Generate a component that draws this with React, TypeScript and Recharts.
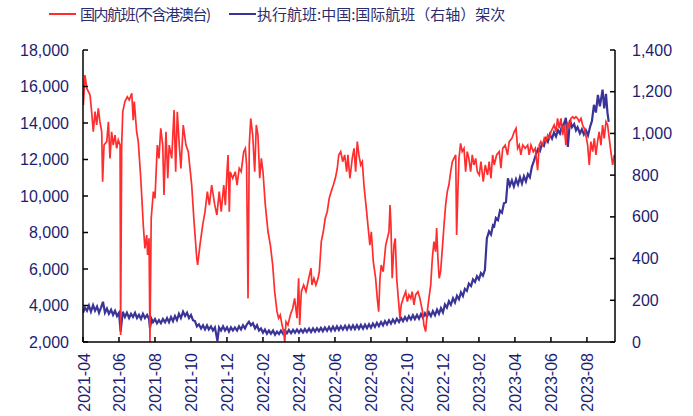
import React from 'react';
import { LineChart, Line, XAxis, YAxis } from 'recharts';

// x positions are in months since 2021-04-01
const tickLabels = ['2021-04','2021-06','2021-08','2021-10','2021-12','2022-02','2022-04','2022-06','2022-08','2022-10','2022-12','2023-02','2023-04','2023-06','2023-08'];
const tickMonths = [0,2,4,6,8,10,12,14,16,18,20,22,24,26,28];
const leftTicks = [2000,4000,6000,8000,10000,12000,14000,16000,18000];
const rightTicks = [0,200,400,600,800,1000,1200,1400];

const domesticMonths = [0.02,0.11,0.21,0.39,0.48,0.57,0.67,0.76,0.85,0.94,1.04,1.09,1.17,1.32,1.41,1.5,1.59,1.68,1.78,1.87,1.96,2.06,2.09,2.15,2.21,2.33,2.46,2.57,2.71,2.79,2.85,2.98,3.07,3.21,3.35,3.44,3.54,3.59,3.67,3.72,3.79,3.91,4.0,4.13,4.22,4.32,4.43,4.5,4.61,4.71,4.79,4.93,5.06,5.15,5.24,5.35,5.44,5.57,5.72,5.85,6.04,6.17,6.32,6.37,6.5,6.65,6.78,6.91,7.02,7.15,7.32,7.44,7.57,7.68,7.82,7.91,8.0,8.06,8.13,8.18,8.32,8.46,8.56,8.68,8.79,8.93,9.02,9.09,9.17,9.24,9.32,9.43,9.54,9.63,9.72,9.82,9.91,10.0,10.13,10.28,10.41,10.54,10.65,10.78,10.87,10.96,11.06,11.15,11.21,11.28,11.39,11.52,11.65,11.76,11.89,11.98,12.04,12.13,12.26,12.39,12.54,12.67,12.72,12.83,12.94,13.06,13.13,13.24,13.35,13.46,13.57,13.68,13.79,13.91,14.02,14.13,14.21,14.32,14.43,14.54,14.65,14.72,14.83,14.96,15.06,15.15,15.24,15.33,15.43,15.52,15.61,15.76,15.83,15.94,16.02,16.13,16.26,16.35,16.43,16.5,16.57,16.68,16.82,16.91,17.0,17.06,17.11,17.18,17.28,17.35,17.43,17.52,17.61,17.68,17.79,17.93,18.02,18.11,18.21,18.29,18.39,18.48,18.61,18.72,18.79,18.87,18.94,19.04,19.13,19.22,19.32,19.41,19.5,19.59,19.65,19.72,19.79,19.87,19.98,20.06,20.15,20.24,20.33,20.43,20.52,20.61,20.71,20.76,20.83,20.89,20.98,21.07,21.17,21.26,21.35,21.44,21.54,21.63,21.72,21.82,21.91,22.02,22.11,22.24,22.35,22.48,22.57,22.67,22.76,22.85,22.98,23.13,23.22,23.32,23.46,23.59,23.68,23.83,23.96,24.06,24.15,24.24,24.33,24.43,24.57,24.71,24.79,24.89,25.02,25.13,25.21,25.26,25.35,25.44,25.54,25.63,25.72,25.82,25.91,26.0,26.09,26.18,26.28,26.37,26.46,26.56,26.65,26.74,26.83,26.93,27.02,27.11,27.21,27.29,27.39,27.48,27.57,27.67,27.76,27.85,27.94,28.04,28.13,28.22,28.32,28.41,28.5,28.59,28.68,28.78,28.87,28.96,29.06,29.15,29.24,29.33,29.43,29.52];
const domesticFlights = [14990,16630,15900,15530,14620,13520,14620,13890,14800,14070,13520,10780,12790,12980,14070,12060,13520,12790,13340,12610,13070,12790,2380,12790,14620,15170,15440,15260,15630,14160,15170,13520,12980,10970,8410,7130,7860,6770,7680,2000,8780,10240,9870,12790,12060,13710,12790,10050,13520,10970,12790,12060,14710,11330,14620,12790,11510,13890,12790,12430,10600,8590,6590,6220,7320,8410,9140,10240,9500,10600,9510,8960,10240,9140,10600,9500,11330,12250,9140,11330,10970,11330,10600,11520,11330,12430,12610,11700,4390,12800,14250,13340,11330,13890,13340,10970,12060,11330,9510,8040,7310,6220,4760,3660,3300,3480,2930,2570,2000,3110,2930,3480,3840,4390,3300,5490,2930,4760,5120,4760,5490,6040,5120,5490,5120,5490,5850,7500,8040,8780,9140,9870,10240,10600,10970,11520,12250,12430,11880,12250,11330,12250,10970,12060,12610,11330,12980,12250,11700,11880,10600,9140,8410,7310,8040,6400,5490,4390,3660,5490,6220,5850,7310,7680,8040,9510,8410,5490,7310,7680,5490,4390,3300,4030,4390,4760,4210,4580,4390,4760,4030,4580,4760,4390,4030,3660,2930,2570,3660,4390,5120,6590,7500,6950,8240,6590,5490,5850,7310,8410,9510,10240,10600,11330,11880,12060,12250,7860,10240,12060,12880,12430,12610,11330,12430,12060,11330,12250,11700,12060,11330,11150,11880,10780,11700,11150,11880,10970,12250,11700,12250,12430,11520,12610,12790,12250,12980,13160,13520,13710,12610,12790,12250,12790,12610,12790,12250,12790,12430,12610,11880,11420,12790,12980,12790,13160,12980,13340,13160,13520,13710,13890,13520,14250,13710,14250,13340,13890,12790,14070,13710,14250,14340,14250,14340,14250,14070,14250,13890,13710,13340,12790,11700,12980,12430,13160,12250,12980,13520,12790,13890,13160,14070,13890,13160,12430,11700,12250];

const intlMonths = [0.0,0.11,0.22,0.33,0.44,0.56,0.67,0.78,0.89,1.0,1.11,1.22,1.33,1.44,1.56,1.67,1.78,1.89,2.0,2.09,2.21,2.33,2.44,2.56,2.67,2.78,2.89,3.0,3.11,3.22,3.33,3.44,3.56,3.67,3.72,3.81,3.89,4.0,4.11,4.22,4.33,4.44,4.56,4.67,4.78,4.89,5.0,5.11,5.22,5.33,5.44,5.56,5.67,5.78,5.89,6.0,6.11,6.22,6.33,6.44,6.56,6.67,6.78,6.89,6.99,7.11,7.22,7.33,7.47,7.56,7.67,7.78,7.89,8.0,8.11,8.22,8.33,8.44,8.56,8.67,8.78,8.89,9.0,9.11,9.22,9.33,9.44,9.56,9.67,9.78,9.89,10.0,10.11,10.22,10.33,10.44,10.56,10.67,10.78,10.89,11.0,11.11,11.22,11.33,11.44,11.56,11.67,11.78,11.89,12.0,12.11,12.22,12.33,12.44,12.56,12.67,12.78,12.89,13.0,13.11,13.22,13.33,13.44,13.56,13.67,13.78,13.89,14.0,14.11,14.22,14.33,14.44,14.56,14.67,14.78,14.89,15.0,15.11,15.22,15.33,15.44,15.56,15.67,15.78,15.89,16.0,16.11,16.22,16.33,16.44,16.56,16.67,16.78,16.89,17.0,17.11,17.22,17.33,17.44,17.56,17.67,17.78,17.89,18.0,18.11,18.22,18.33,18.44,18.56,18.67,18.78,18.89,19.0,19.11,19.22,19.33,19.44,19.56,19.67,19.78,19.89,20.0,20.11,20.22,20.33,20.44,20.56,20.67,20.78,20.89,21.0,21.11,21.22,21.33,21.44,21.56,21.67,21.78,21.89,22.0,22.11,22.22,22.33,22.44,22.56,22.67,22.78,22.85,22.94,23.06,23.17,23.28,23.39,23.5,23.61,23.72,23.83,23.94,24.06,24.17,24.28,24.39,24.5,24.61,24.72,24.83,24.94,25.06,25.17,25.28,25.39,25.5,25.61,25.72,25.83,25.94,26.06,26.17,26.28,26.39,26.5,26.61,26.72,26.83,26.94,27.06,27.17,27.29,27.39,27.48,27.61,27.72,27.83,27.94,28.06,28.17,28.28,28.39,28.5,28.61,28.72,28.87,28.96,29.06,29.14,29.21,29.28,29.37,29.44,29.53];
const intlFlights = [140,165,150,175,145,177,150,170,140,165,193,140,160,135,155,130,150,125,140,49,145,120,140,115,135,120,140,115,130,110,135,115,130,110,67,110,95,110,90,105,90,110,95,115,95,120,100,125,105,135,115,145,125,140,115,130,105,100,75,85,65,80,60,80,60,75,55,70,5,70,55,75,55,70,50,70,55,70,55,75,60,80,65,85,97,80,90,65,80,55,65,45,60,40,55,40,55,35,50,38,55,40,55,42,58,42,58,44,60,45,60,46,62,48,64,48,65,50,66,52,68,52,70,54,72,55,74,56,75,58,76,60,78,60,79,62,80,62,81,63,82,64,83,66,85,68,88,72,92,76,96,80,100,84,104,88,108,92,112,96,116,100,120,104,124,108,128,110,130,112,134,116,138,120,142,124,148,128,155,135,162,142,180,165,195,178,210,190,222,205,238,220,255,245,280,268,300,288,315,300,330,318,345,497,530,515,560,555,595,585,630,620,665,670,785,750,775,745,780,755,790,760,795,770,805,790,840,870,900,925,915,950,940,975,960,995,975,1005,985,1015,1000,1035,1045,1075,935,1065,1030,1045,1015,1030,1000,1020,995,1015,990,1030,1060,1137,1100,1185,1130,1210,1120,1190,1100,1055];

const RED = '#ff2d2d';
const BLUE = '#3a3497';
const TEXT = '#1d1d72';
const FONT = '"Liberation Sans", Arial, sans-serif';

type Row = { m: number; dom?: number; intl?: number };
const rows: Row[] = [
  ...domesticMonths.map((m, i) => ({ m, dom: domesticFlights[i] })),
  ...intlMonths.map((m, i) => ({ m, intl: intlFlights[i] })),
].sort((a, b) => a.m - b.m);

const fmt = (v: number) => v.toLocaleString('en-US');

const LeftTick = (props: any) => {
  const { x, y, payload } = props;
  return (
    <g>
      <line x1={x} x2={x + 5} y1={y} y2={y} stroke="#000" strokeWidth={1.5} />
      <text x={x - 14} y={y} textAnchor="end" dominantBaseline="central" fill={TEXT} fontSize={16} fontFamily={FONT}>
        {fmt(payload.value)}
      </text>
    </g>
  );
};

const RightTick = (props: any) => {
  const { x, y, payload } = props;
  return (
    <g>
      <line x1={x - 5} x2={x} y1={y} y2={y} stroke="#000" strokeWidth={1.5} />
      <text x={x + 17} y={y} textAnchor="start" dominantBaseline="central" fill={TEXT} fontSize={16} fontFamily={FONT}>
        {fmt(payload.value)}
      </text>
    </g>
  );
};

const BottomTick = (props: any) => {
  const { x, y, payload } = props;
  const label = tickLabels[tickMonths.indexOf(payload.value)] ?? '';
  const ty = y + 11;
  return (
    <g>
      <line x1={x} x2={x} y1={y - 5} y2={y} stroke="#000" strokeWidth={1.5} />
      <text x={x + 1} y={ty} transform={`rotate(-90, ${x + 1}, ${ty})`} textAnchor="end" dominantBaseline="central" fill={TEXT} fontSize={16} fontFamily={FONT}>
        {label}
      </text>
    </g>
  );
};

const legendItems = [
  { name: '国内航班(不含港澳台)', color: RED, lineLeft: 49, textLeft: 80, spacing: -1.4 },
  { name: '执行航班:中国:国际航班（右轴）架次', color: BLUE, lineLeft: 229, textLeft: 257, spacing: 0 },
];

export default function App() {
  return (
    <div style={{ position: 'absolute', left: 0, top: 0, width: 693, height: 416, background: '#fff' }}>
      {legendItems.map((it) => (
        <React.Fragment key={it.name}>
          <div style={{ position: 'absolute', left: it.lineLeft, top: 13, width: 27, height: 2, background: it.color }} />
          <div style={{ position: 'absolute', left: it.textLeft, top: 3, fontSize: 15, lineHeight: '22px', letterSpacing: it.spacing, color: '#2c2c6c', fontFamily: '"Noto Sans CJK SC", sans-serif', whiteSpace: 'nowrap' }}>
            {it.name}
          </div>
        </React.Fragment>
      ))}
      <LineChart width={693} height={416} data={rows} margin={{ top: 50, right: 18, bottom: 14, left: 23 }}>
        <XAxis
          dataKey="m"
          type="number"
          domain={[0, 29.56]}
          ticks={tickMonths}
          allowDataOverflow
          height={60}
          tickSize={0}
          tickMargin={0}
          tick={<BottomTick />}
          axisLine={{ stroke: '#000', strokeWidth: 1.5 }}
          tickLine={false}
          interval={0}
        />
        <YAxis
          yAxisId="left"
          orientation="left"
          width={60}
          domain={[2000, 18000]}
          ticks={leftTicks}
          allowDataOverflow
          tickSize={0}
          tickMargin={0}
          tick={<LeftTick />}
          axisLine={{ stroke: '#000', strokeWidth: 1.5 }}
          tickLine={false}
          interval={0}
        />
        <YAxis
          yAxisId="right"
          orientation="right"
          width={60}
          domain={[0, 1400]}
          ticks={rightTicks}
          allowDataOverflow
          tickSize={0}
          tickMargin={0}
          tick={<RightTick />}
          axisLine={{ stroke: '#000', strokeWidth: 1.5 }}
          tickLine={false}
          interval={0}
        />
        <Line yAxisId="right" dataKey="intl" stroke={BLUE} strokeWidth={2.2} dot={false} connectNulls isAnimationActive={false} type="linear" />
        <Line yAxisId="left" dataKey="dom" stroke={RED} strokeWidth={1.7} dot={false} connectNulls isAnimationActive={false} type="linear" />
      </LineChart>
    </div>
  );
}
